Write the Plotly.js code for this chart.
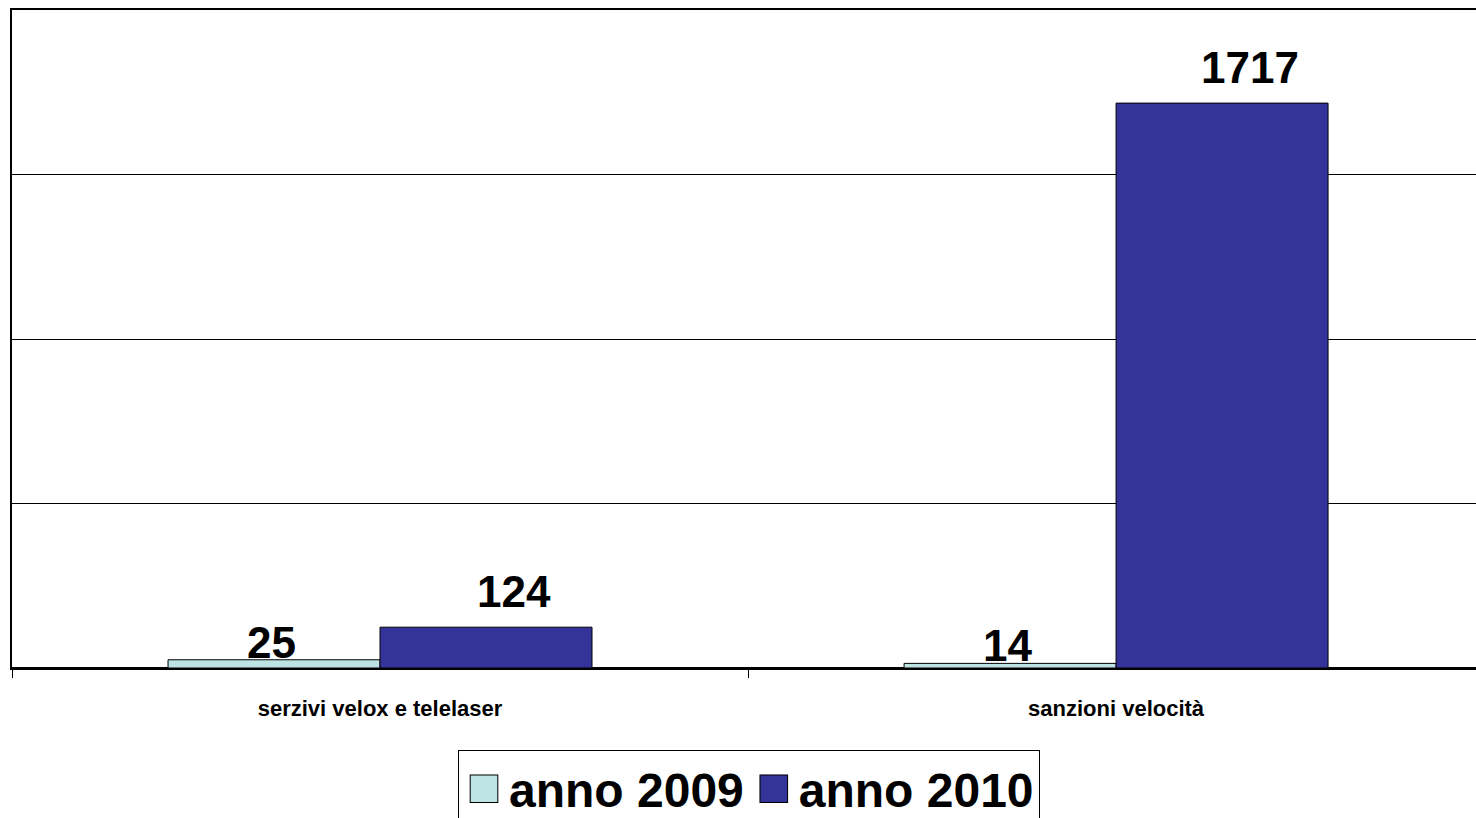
<!DOCTYPE html>
<html>
<head>
<meta charset="utf-8">
<script src="https://cdn.plot.ly/plotly-3.0.1.min.js"></script>
<style>html,body{margin:0;padding:0;overflow:hidden;background:#fff}</style>
</head>
<body>
<div id="chart" style="width:1476px;height:818px"></div>
<script>
const categories = ["serzivi velox e telelaser", "sanzioni velocità"];
const seriesNames = ["anno 2009", "anno 2010"];
const values2009 = [25, 14];
const values2010 = [124, 1717];
const colors = ["#BDE3E3", "#333399"];

const FONT = "Liberation Sans, Arial, sans-serif";
const bargap = 0.424;
const barW = (1 - bargap) / 2;

const seriesValues = [values2009, values2010];
const traces = seriesValues.map((vals, i) => ({
  type: "bar",
  name: seriesNames[i],
  x: categories,
  y: vals,
  marker: {color: colors[i], line: {color: "#000", width: 1}},
  hoverinfo: "none"
}));

// data labels as annotations placed on each bar's value
const labelShift = [{x: -3, y: -9}, {x: 28, y: 9}];
const annotations = [];
seriesValues.forEach((vals, i) => {
  vals.forEach((v, j) => {
    annotations.push({
      x: j + (i - 0.5) * barW,
      y: v,
      xref: "x", yref: "y",
      text: String(v),
      showarrow: false,
      xanchor: "center", yanchor: "bottom",
      xshift: labelShift[i].x, yshift: labelShift[i].y,
      font: {family: FONT, size: 44, weight: "bold", color: "#000"}
    });
  });
});

const layout = {
  width: 1476,
  height: 818,
  margin: {l: 12, r: 0, t: 10, b: 150},
  paper_bgcolor: "#fff",
  plot_bgcolor: "#fff",
  barmode: "group",
  bargap: bargap,
  bargroupgap: 0,
  font: {family: FONT, color: "#000"},
  showlegend: true,
  legend: {
    orientation: "h",
    xref: "container", yref: "container",
    x: 749 / 1476, xanchor: "center",
    y: 1 - 750 / 818, yanchor: "top",
    bordercolor: "#000", borderwidth: 1,
    font: {family: FONT, size: 48, weight: "bold", color: "#000"},
    itemwidth: 40,
    traceorder: "normal"
  },
  annotations: annotations,
  xaxis: {
    type: "category",
    range: [-0.5, 1.489],
    showline: true, linecolor: "#000", linewidth: 2,
    mirror: true,
    ticks: "outside", tickson: "boundaries", ticklen: 8, tickcolor: "#000", tickwidth: 1,
    showgrid: false,
    tickfont: {family: FONT, size: 22, weight: "bold", color: "#000"},
    ticklabelstandoff: 20,
    fixedrange: true
  },
  yaxis: {
    range: [0, 2000],
    dtick: 500,
    showgrid: true, gridcolor: "#000", gridwidth: 1,
    zeroline: true, zerolinecolor: "#000", zerolinewidth: 2,
    showline: true, linecolor: "#000", linewidth: 2,
    showticklabels: false,
    ticks: "",
    fixedrange: true
  }
};

Plotly.newPlot("chart", traces, layout, {displayModeBar: false, staticPlot: true}).then(() => {
  document.querySelectorAll(".legendpoints path").forEach(p => {
    const t = p.getAttribute("transform") || "";
    p.setAttribute("transform", t + " scale(2.3)");
    p.style.strokeWidth = "0.45px";
  });
});
</script>
</body>
</html>
